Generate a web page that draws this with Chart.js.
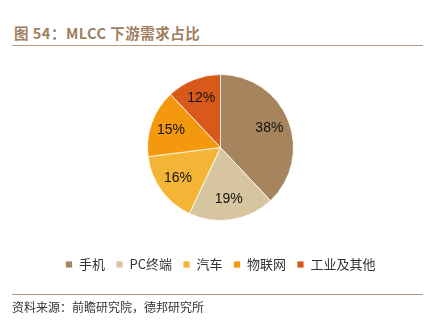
<!DOCTYPE html>
<html lang="zh-CN">
<head>
    <meta charset="UTF-8">
    <title>MLCC 下游需求占比</title>
    <script src="https://cdn.jsdelivr.net/npm/chart.js"></script>
    <style>
        body { margin: 0; width: 435px; height: 322px; background: #fff; position: relative; overflow: hidden; }
        #title { position: absolute; left: 14px; top: 22px; font: bold 14.5px "Noto Sans CJK SC", sans-serif; color: #A0805F; letter-spacing: 0.5px; }
        .rule { position: absolute; left: 12px; width: 411px; height: 1px; background: #B8987A; }
        #source { position: absolute; left: 12px; top: 298px; font: 12px "Noto Sans CJK SC", sans-serif; color: #333; }
        #wrap { position: absolute; left: 0; top: 0; width: 435px; height: 322px; }
    </style>
</head>
<body>
    <div id="title">图 54：MLCC 下游需求占比</div>
    <div class="rule" style="top: 45px;"></div>
    <div id="wrap"><canvas id="myChart"></canvas></div>
    <div class="rule" style="top: 294px;"></div>
    <div id="source">资料来源：前瞻研究院，德邦研究所</div>

    <script>
        const categories = ["手机", "PC终端", "汽车", "物联网", "工业及其他"];
        const shares = [38, 19, 16, 15, 12];
        const colors = ["#A6845D", "#D7C59F", "#F4B435", "#F4990E", "#D9591B"];

        // percentage text inside each slice
        const sliceLabels = {
            id: "sliceLabels",
            afterDatasetsDraw(chart) {
                const ctx = chart.ctx;
                const meta = chart.getDatasetMeta(0);
                ctx.save();
                ctx.font = "14px 'Liberation Sans', Arial, sans-serif";
                ctx.fillStyle = "#111";
                ctx.textAlign = "center";
                ctx.textBaseline = "middle";
                meta.data.forEach((arc, i) => {
                    const p = arc.getProps(["x", "y", "startAngle", "endAngle", "outerRadius"], true);
                    const mid = (p.startAngle + p.endAngle) / 2;
                    const r = p.outerRadius * 0.72;
                    ctx.fillText(shares[i] + "%", p.x + Math.cos(mid) * r, p.y + Math.sin(mid) * r);
                });
                ctx.restore();
            }
        };

        new Chart(document.getElementById("myChart"), {
            type: "pie",
            data: {
                labels: categories,
                datasets: [{
                    data: shares,
                    backgroundColor: colors,
                    borderColor: "#ffffff",
                    borderWidth: 0.8,
                    radius: 73
                }]
            },
            options: {
                responsive: true,
                maintainAspectRatio: false,
                animation: false,
                layout: { padding: { top: 48, bottom: 41, left: 6, right: 0 } },
                plugins: {
                    tooltip: { enabled: false },
                    legend: {
                        position: "bottom",
                        labels: {
                            boxWidth: 7,
                            boxHeight: 7,
                            padding: 11,
                            color: "#333",
                            font: { size: 13, family: "'Noto Sans CJK SC', sans-serif" }
                        }
                    }
                }
            },
            plugins: [sliceLabels]
        });
    </script>
</body>
</html>
